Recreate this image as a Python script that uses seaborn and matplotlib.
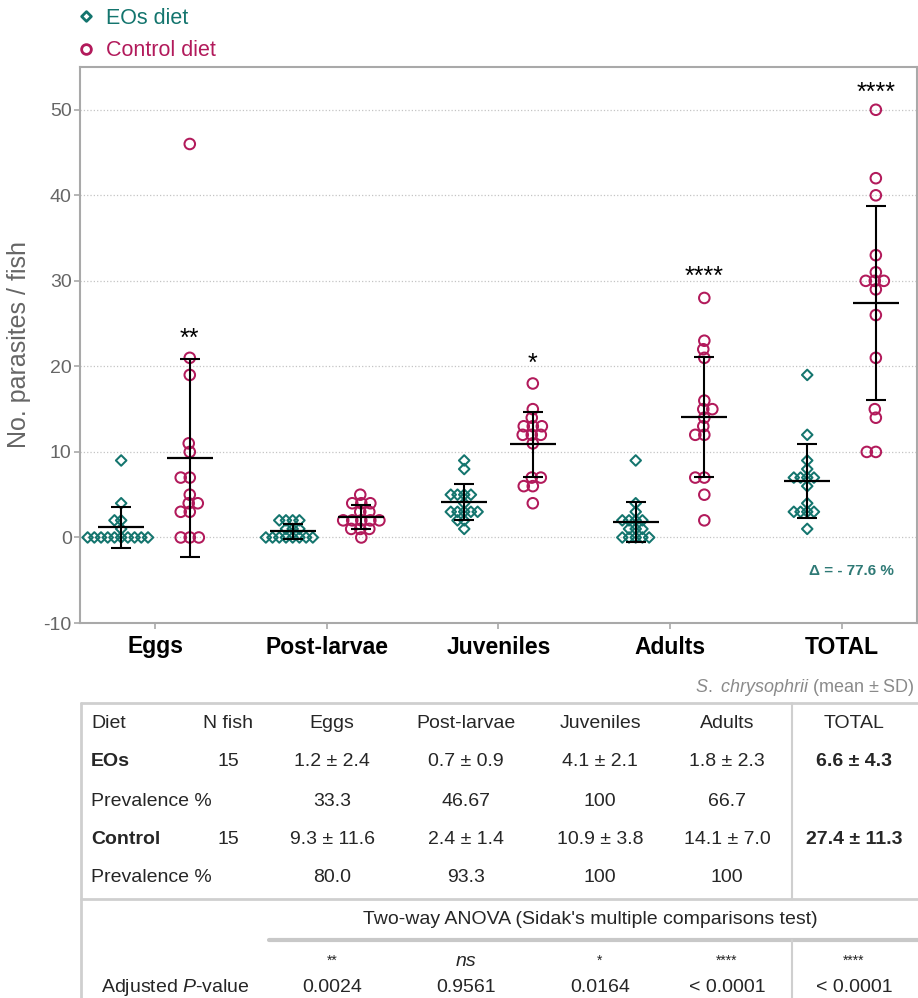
import numpy as np
import pandas as pd
import seaborn as sns
import matplotlib.pyplot as plt
from matplotlib.lines import Line2D
from matplotlib.path import Path

# --- DATA ---
stages = ['Eggs', 'Post-larvae', 'Juveniles', 'Adults', 'TOTAL']
diets = ['EOs diet', 'Control diet']

# parasites per fish (15 fish per diet)
eos_eggs = [9, 4, 2, 2, 1, 0, 0, 0, 0, 0, 0, 0, 0, 0, 0]
ctrl_eggs = [46, 21, 19, 11, 10, 7, 7, 5, 4, 4, 3, 3, 0, 0, 0]
eos_post = [2, 2, 2, 2, 1, 1, 1, 0, 0, 0, 0, 0, 0, 0, 0]
ctrl_post = [5, 4, 4, 4, 3, 3, 2, 2, 2, 2, 2, 1, 1, 1, 0]
eos_juv = [9, 8, 5, 5, 5, 5, 4, 3, 3, 3, 3, 3, 2, 2, 1]
ctrl_juv = [18, 15, 14, 13, 13, 13, 12, 12, 12, 11, 7, 7, 6, 6, 4]
eos_adult = [9, 4, 3, 2, 2, 2, 2, 1, 1, 1, 0, 0, 0, 0, 0]
ctrl_adult = [28, 23, 22, 21, 16, 15, 15, 14, 13, 12, 12, 7, 7, 5, 2]
eos_total = [19, 12, 9, 8, 7, 7, 7, 7, 6, 4, 3, 3, 3, 3, 1]
ctrl_total = [50, 42, 40, 33, 31, 30, 30, 30, 29, 26, 21, 15, 14, 10, 10]

# mean +- SD (as printed in the table)
eos_mean = [1.2, 0.7, 4.1, 1.8, 6.6]
eos_sd = [2.4, 0.9, 2.1, 2.3, 4.3]
ctrl_mean = [9.3, 2.4, 10.9, 14.1, 27.4]
ctrl_sd = [11.6, 1.4, 3.8, 7.0, 11.3]
n_fish = [15, 15]
eos_prev = ['33.3', '46.67', '100', '66.7']
ctrl_prev = ['80.0', '93.3', '100', '100']
signif = ['**', 'ns', '*', '****', '****']
p_values = ['0.0024', '0.9561', '0.0164', '< 0.0001', '< 0.0001']
delta_label = 'Δ = - 77.6 %'
# baseline heights of the asterisks over the control groups
star_y = [22.4, None, 19.5, 29.7, 51.2]

TEAL = '#14756e'
CRIMSON = '#b21a5b'
palette = {'EOs diet': TEAL, 'Control diet': CRIMSON}

eos_lists = [eos_eggs, eos_post, eos_juv, eos_adult, eos_total]
ctrl_lists = [ctrl_eggs, ctrl_post, ctrl_juv, ctrl_adult, ctrl_total]
rows = []
for stage, e, c in zip(stages, eos_lists, ctrl_lists):
    rows += [{'stage': stage, 'diet': 'EOs diet', 'count': v} for v in e]
    rows += [{'stage': stage, 'diet': 'Control diet', 'count': v} for v in c]
df = pd.DataFrame(rows)

# --- STYLE ---
sns.set_style('ticks')
plt.rcParams['font.family'] = ['Liberation Sans', 'DejaVu Sans']
plt.rcParams['axes.unicode_minus'] = False
plt.rcParams['mathtext.fontset'] = 'custom'
plt.rcParams['mathtext.rm'] = 'Liberation Sans'
plt.rcParams['mathtext.it'] = 'Liberation Sans:italic'
plt.rcParams['mathtext.bf'] = 'Liberation Sans:bold'

# diamond as custom path so its width equals the marker size
diamond = Path([(0, 1), (1, 0), (0, -1), (-1, 0), (0, 1)],
               [Path.MOVETO, Path.LINETO, Path.LINETO, Path.LINETO, Path.CLOSEPOLY])
markers = {'EOs diet': diamond, 'Control diet': 'o'}
# marker size used only while seaborn lays out the swarms: the original
# dot plot lets its symbols overlap, so the clusters are tighter than the symbols
layout_size = {'EOs diet': 4.6, 'Control diet': 6.2}

fig = plt.figure(figsize=(9.18, 9.98), dpi=100)
ax = fig.add_axes([80 / 918, 1 - 623 / 998, 837 / 918, 556 / 998])

swarm_colls = {}
for diet in diets:
    n0 = len(ax.collections)
    sns.swarmplot(data=df[df['diet'] == diet], x='stage', y='count', hue='diet',
                  order=stages, hue_order=diets, palette=palette, dodge=True,
                  marker=markers[diet], size=layout_size[diet], linewidth=0,
                  legend=False, warn_thresh=1, ax=ax)
    swarm_colls[diet] = list(ax.collections[n0:])

ax.set_xlim(-0.44, 4.44)
ax.set_ylim(-10, 55)
fig.canvas.draw()  # seaborn computes the swarm positions here

for diet, colls in swarm_colls.items():
    for coll in colls:
        if 'draw' in coll.__dict__:
            del coll.draw  # freeze the layout, then enlarge the symbols
        coll.set_sizes([7.6 ** 2])
        coll.set_edgecolor(palette[diet])
        coll.set_facecolor('none')
        coll.set_linewidth(1.45)

# mean +- SD bars
xpos = np.arange(len(stages))
for off, means, sds in [(-0.2, eos_mean, eos_sd), (0.2, ctrl_mean, ctrl_sd)]:
    ax.errorbar(xpos + off, means, yerr=sds, fmt='none', ecolor='black',
                elinewidth=1.5, capsize=7.5, capthick=1.5, zorder=4)
    ax.hlines(means, xpos + off - 0.135, xpos + off + 0.135, colors='black', lw=1.6, zorder=4)

for i, (s, y) in enumerate(zip(signif, star_y)):
    if y is not None:
        ax.text(i + 0.2, y, s, ha='center', va='baseline', fontsize=18, color='black')

ax.text(4.06, -3.9, delta_label, ha='center', va='center', fontsize=11,
        fontweight='bold', color='#2f7a76')

ax.set_yticks(range(-10, 51, 10))
ax.set_axisbelow(True)
ax.yaxis.grid(True, linestyle=':', color='#c4c4c4', lw=0.9)
for sp in ax.spines.values():
    sp.set_color('#a9a9a9')
    sp.set_linewidth(1.5)
ax.tick_params(axis='y', colors='#a9a9a9', labelcolor='#666666', labelsize=14,
               length=4, width=1.2, pad=2)
ax.tick_params(axis='x', colors='#a9a9a9', labelcolor='black', labelsize=16.5,
               length=4, width=1.2, pad=5)
ax.set_xticks(xpos)
ax.set_xticklabels(stages, fontweight='bold')
ax.set_xlabel('')
ax.set_ylabel('No. parasites / fish', fontsize=18, color='#666666', labelpad=9)

leg_handles = [Line2D([], [], marker=markers[d], ls='none', mec=palette[d], mfc='none',
                      ms=7, mew=2) for d in diets]
fig.legend(handles=leg_handles, labels=diets, loc='upper left',
           bbox_to_anchor=(75 / 918, 1 - 8 / 998), frameon=False, fontsize=15.5,
           handlelength=1, handletextpad=0.43, labelspacing=0.53, borderpad=0,
           borderaxespad=0, labelcolor=[palette[d] for d in diets])

# --- TABLE (pixel layout below the plot) ---
tab = fig.add_axes([0, 0, 1, 1], zorder=-1)
tab.set_xlim(0, 918)
tab.set_ylim(998, 0)
tab.axis('off')

LINE = '#cfcfcf'
tab.plot([81, 918], [703, 703], color=LINE, lw=2)
tab.plot([81, 81], [703, 998], color=LINE, lw=2)
tab.plot([81, 918], [899, 899], color=LINE, lw=2)
tab.plot([269, 918], [940, 940], color='#c8c8c8', lw=3)
tab.plot([791.5, 791.5], [703, 899], color=LINE, lw=1.5)
tab.plot([791.5, 791.5], [940, 998], color=LINE, lw=1.5)

FS = 14
col_x = [332, 466, 600, 727, 854]
tab.text(915, 688, r'$\it{S.\ chrysophrii}$ (mean ± SD)', ha='right', va='center',
         fontsize=13, color='#8a8a8a')

tab.text(91, 724, 'Diet', ha='left', va='center', fontsize=FS)
tab.text(228, 724, 'N fish', ha='center', va='center', fontsize=FS)
for x, s in zip(col_x, stages):
    tab.text(x, 724, s, ha='center', va='center', fontsize=FS)

for y, name, n, means, sds, prev in [(762, 'EOs', n_fish[0], eos_mean, eos_sd, eos_prev),
                                     (839, 'Control', n_fish[1], ctrl_mean, ctrl_sd, ctrl_prev)]:
    tab.text(91, y, name, ha='left', va='center', fontsize=FS, fontweight='bold')
    tab.text(228, y, str(n), ha='center', va='center', fontsize=FS)
    for i, (x, m, s) in enumerate(zip(col_x, means, sds)):
        tab.text(x, y, f'{m:.1f} ± {s:.1f}', ha='center', va='center', fontsize=FS,
                 fontweight='bold' if i == 4 else 'normal')
    tab.text(91, y + 39, 'Prevalence %', ha='left', va='center', fontsize=FS)
    for x, p in zip(col_x, prev):
        tab.text(x, y + 39, p, ha='center', va='center', fontsize=FS)

tab.text(590, 920, "Two-way ANOVA (Sidak's multiple comparisons test)", ha='center',
         va='center', fontsize=FS)
for x, s in zip(col_x, signif):
    if s == 'ns':
        tab.text(x, 961, s, ha='center', va='center', fontsize=FS, fontstyle='italic')
    else:
        tab.text(x, 965, s, ha='center', va='baseline', fontsize=10)
tab.text(175, 987, r'Adjusted $\it{P}$-value', ha='center', va='center', fontsize=FS)
for x, p in zip(col_x, p_values):
    tab.text(x, 987, p, ha='center', va='center', fontsize=FS)

fig.savefig('out.png', dpi=100)
